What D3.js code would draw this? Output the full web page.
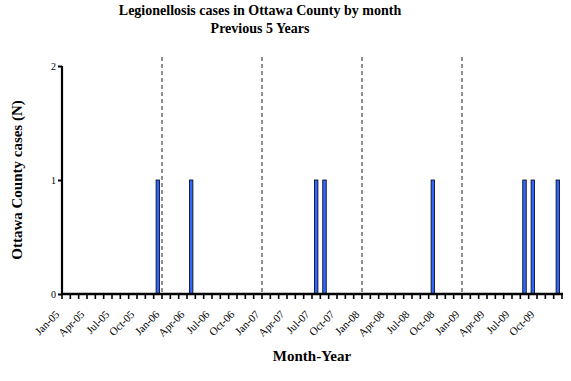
<!DOCTYPE html>
<html><head><meta charset="utf-8">
<script src="https://cdn.jsdelivr.net/npm/d3@7"></script>
<style>body{margin:0;background:#fff}svg{display:block}</style>
</head><body>
<svg id="c" width="571" height="381"></svg>
<script>
const years = ["05","06","07","08","09"];
const monthNames = ["Jan","Feb","Mar","Apr","May","Jun","Jul","Aug","Sep","Oct","Nov","Dec"];
const categories = [];
years.forEach(y => monthNames.forEach(m => categories.push(m + "-" + y)));
// cases by month (only non-zero months listed)
const caseMonths = ["Dec-05","Apr-06","Jul-07","Aug-07","Sep-08","Aug-09","Sep-09","Dec-09"];
const caseCounts = [1,1,1,1,1,1,1,1];
const values = categories.map(c => { const i = caseMonths.indexOf(c); return i >= 0 ? caseCounts[i] : 0; });
const yTicks = [0,1,2];
const yearBreaks = ["Jan-06","Jan-07","Jan-08","Jan-09"];

(function(){
const svg = d3.select("#c");
const serif = "'Liberation Serif','Times New Roman',serif";
const pL = 62, pR = 562, pT = 66, pB = 294;

const x = d3.scaleBand().domain(categories).range([pL, pR]).paddingInner(0).paddingOuter(0);
const y = d3.scaleLinear().domain([0,2]).range([pB, pT]);

// dashed year separators
svg.selectAll("line.sep").data(yearBreaks).enter().append("line")
  .attr("x1", d => x(d)).attr("x2", d => x(d))
  .attr("y1", 57).attr("y2", pB)
  .attr("stroke", "#222").attr("stroke-width", 1).attr("stroke-dasharray", "4,3");

// bars
const bw = x.bandwidth() * 0.42;
svg.selectAll("rect.bar").data(categories.map((c,i)=>({c, v: values[i]})).filter(d => d.v > 0))
  .enter().append("rect")
  .attr("x", d => x(d.c) + x.bandwidth()/2 - bw/2)
  .attr("y", d => y(d.v))
  .attr("width", bw)
  .attr("height", d => y(0) - y(d.v))
  .attr("fill", "#3366ff").attr("stroke", "#000").attr("stroke-width", 0.8);

// y axis
const yAxis = svg.append("g").attr("transform", `translate(${pL},0)`)
  .call(d3.axisLeft(y).tickValues(yTicks).tickSize(4).tickFormat(d3.format("d")));
yAxis.select(".domain").attr("stroke-width", 2.2).attr("d", `M0,${pT}V${pB}`);
yAxis.selectAll(".tick line").attr("stroke-width", 2);
yAxis.selectAll(".tick text").attr("font-family", serif).attr("font-size", 10).attr("fill", "#000").attr("x", -6);

// x axis
const xg = svg.append("g").attr("transform", `translate(0,${pB})`);
xg.append("line").attr("x1", pL - 1).attr("x2", pR + 1).attr("y1", 0).attr("y2", 0)
  .attr("stroke", "#000").attr("stroke-width", 2.5);
const boundaries = categories.map(c => x(c)).concat([pR]);
xg.selectAll("line.tk").data(boundaries).enter().append("line")
  .attr("x1", d => d).attr("x2", d => d).attr("y1", 0).attr("y2", 5)
  .attr("stroke", "#000").attr("stroke-width", 1.6);
xg.selectAll("text.lab").data(categories.filter((c,i) => i % 3 === 0)).enter().append("text")
  .attr("transform", d => `translate(${x(d) + x.bandwidth()/2 - 6},${21}) rotate(-45)`)
  .attr("text-anchor", "end")
  .attr("font-family", serif).attr("font-size", 11).attr("fill", "#000")
  .text(d => d);

// titles
svg.append("text").attr("x", 260).attr("y", 15).attr("text-anchor", "middle")
  .attr("font-family", serif).attr("font-weight", "bold").attr("font-size", 14)
  .text("Legionellosis cases in Ottawa County by month");
svg.append("text").attr("x", 260).attr("y", 33).attr("text-anchor", "middle")
  .attr("font-family", serif).attr("font-weight", "bold").attr("font-size", 14)
  .text("Previous 5 Years");
svg.append("text").attr("transform", "translate(22,180) rotate(-90)").attr("text-anchor", "middle")
  .attr("font-family", serif).attr("font-weight", "bold").attr("font-size", 15)
  .text("Ottawa County cases (N)");
svg.append("text").attr("x", 312).attr("y", 361).attr("text-anchor", "middle")
  .attr("font-family", serif).attr("font-weight", "bold").attr("font-size", 15)
  .text("Month-Year");
})();
</script>
</body></html>
